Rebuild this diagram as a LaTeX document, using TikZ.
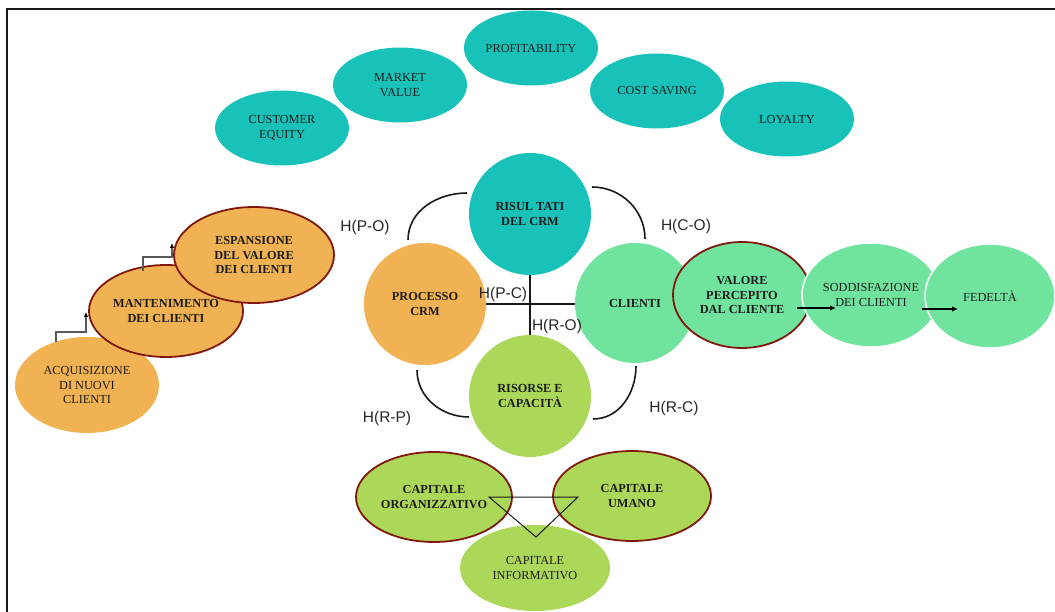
\documentclass[tikz,border=0pt]{standalone}
\usepackage{fontspec}
\setmainfont{Liberation Serif}
\newfontfamily\hfont{Liberation Sans}
\usetikzlibrary{shapes.geometric,arrows.meta}
\definecolor{tealc}{RGB}{24,194,184}
\definecolor{orngc}{RGB}{240,178,82}
\definecolor{mintc}{RGB}{112,228,158}
\definecolor{limec}{RGB}{172,216,90}
\definecolor{bordc}{RGB}{128,24,14}
\definecolor{txtc}{RGB}{28,28,28}
\begin{document}
\begin{tikzpicture}[x=1pt,y=-1pt,
  ell/.style={ellipse,inner sep=0pt,align=center,text=txtc,
    font=\fontsize{12.3}{14.5}\selectfont},
  bell/.style={ell,font=\fontsize{12.3}{14.5}\selectfont\bfseries},
  topell/.style={ell,fill=tealc,minimum width=134pt,minimum height=75pt,
    font=\fontsize{12.3}{14.5}\selectfont},
  circ/.style={circle,inner sep=0pt,minimum size=122pt,align=center,text=txtc,
    font=\fontsize{12.3}{14.5}\selectfont\bfseries},
  redb/.style={draw=bordc,line width=1.8pt},
  whb/.style={draw=white,line width=1.5pt},
  hlab/.style={font=\hfont\fontsize{15.5}{17}\selectfont,text=black!85,inner sep=0pt},
  arc/.style={line width=1.6pt,black!90},
  cross/.style={line width=2pt,black!90},
  stair/.style={draw=black!65,line width=1.3pt,-{Latex[length=5pt,width=4.5pt,black]}},
  chain/.style={line width=1.1pt,black,-{Latex[length=6pt,width=5.5pt]}},
  frame/.style={line width=2pt,black!90}
]
\useasboundingbox (0,0) rectangle (1055,612);
% frame
\coordinate (fbl) at (7,612);
\coordinate (fc) at (7,9);
\coordinate (ftr) at (1055,9);
\draw[frame] (fbl) -- (fc) -- (ftr);

% top teal ellipses
\node[topell] (ce) at (282,128) {CUSTOMER\\EQUITY};
\node[topell] (mv) at (400,85) {MARKET\\VALUE};
\node[topell] (pr) at (531,48) {PROFITABILITY};
\node[topell] (cs) at (657,91) {COST SAVING};
\node[topell] (ly) at (787,119) {LOYALTY};

% arc end points
\coordinate (a1s) at (467,193); \coordinate (a1e) at (408,240);
\coordinate (a2s) at (592,187); \coordinate (a2e) at (645,239);
\coordinate (a3s) at (417,370); \coordinate (a3e) at (469,417);
\coordinate (a4s) at (636,366); \coordinate (a4e) at (593,419);
\draw[arc] (a1s) to[out=180,in=90] (a1e);
\draw[arc] (a2s) to[out=0,in=90] (a2e);
\draw[arc] (a3s) to[out=-90,in=180] (a3e);
\draw[arc] (a4s) to[out=-90,in=0] (a4e);

% central circles
\node[circ,fill=tealc] (ris) at (530,214) {RISUL TATI\\DEL CRM};
\node[circ,fill=orngc] (proc) at (425,304) {PROCESSO\\CRM};
\node[circ,fill=limec] (rir) at (530,396) {RISORSE E\\CAPACITÀ};
\node[circ,fill=mintc,minimum size=120pt] (cli) at (635,303) {CLIENTI};
\draw[cross] (proc.east) -- (cli.west |- proc.east);
\draw[cross] (ris.south) -- (rir.north);

% H labels
\node[hlab] (hpo) at (365,227) {H(P-O)};
\node[hlab] (hco) at (686,226) {H(C-O)};
\node[hlab] (hpc) at (503,294) {H(P-C)};
\node[hlab] (hro) at (557,326) {H(R-O)};
\node[hlab] (hrp) at (387,418) {H(R-P)};
\node[hlab] (hrc) at (674,408) {H(R-C)};

% right chain
\node[bell,fill=mintc,redb,minimum width=138pt,minimum height=106pt] (val) at (742,295) {VALORE\\PERCEPITO\\DAL CLIENTE};
\node[ell,fill=mintc,whb,minimum width=138pt,minimum height=104pt] (sod) at (871,295) {SODDISFAZIONE\\DEI CLIENTI};
\node[ell,fill=mintc,whb,minimum width=130pt,minimum height=104pt] (fed) at (990,296) {FEDELTÀ};
\coordinate (v1) at (797,308); \coordinate (v2) at (836,308);
\coordinate (s1) at (922,309); \coordinate (s2) at (958,309);
\draw[chain] (v1) -- (v2);
\draw[chain] (s1) -- (s2);

% left staircase
\node[ell,fill=orngc,minimum width=144pt,minimum height=96pt] (acq) at (87,385) {ACQUISIZIONE\\DI NUOVI\\CLIENTI};
\node[bell,fill=orngc,redb,minimum width=154pt,minimum height=92pt] (man) at (166,311) {MANTENIMENTO\\DEI CLIENTI};
\node[bell,fill=orngc,redb,minimum width=160pt,minimum height=96pt] (esp) at (254,255) {ESPANSIONE\\DEL VALORE\\DEI CLIENTI};
\coordinate (e1s) at (56,342); \coordinate (e1m) at (56,332); \coordinate (e1n) at (86,332); \coordinate (e1e) at (86,312);
\coordinate (e2s) at (143,271); \coordinate (e2m) at (143,257); \coordinate (e2n) at (172,257); \coordinate (e2e) at (172,243);
\draw[stair] (e1s) -- (e1m) -- (e1n) -- (e1e);
\draw[stair] (e2s) -- (e2m) -- (e2n) -- (e2e);

% bottom capitals
\node[bell,fill=limec,redb,minimum width=156pt,minimum height=90pt] (org) at (434,497) {CAPITALE\\ORGANIZZATIVO};
\node[bell,fill=limec,redb,minimum width=158pt,minimum height=90pt] (uma) at (632,496) {CAPITALE\\UMANO};
\node[ell,fill=limec,minimum width=150pt,minimum height=86pt] (inf) at (535,568) {CAPITALE\\INFORMATIVO};
\coordinate (t1) at (489,497); \coordinate (t2) at (578,497); \coordinate (t3) at (536,537);
\draw[line width=1pt,black!90] (t1) -- (t2) -- (t3) -- cycle;
\end{tikzpicture}
\end{document}
